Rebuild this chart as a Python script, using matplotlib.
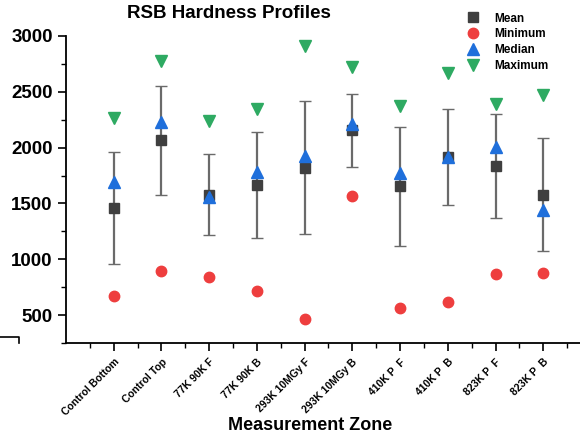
import numpy as np
import matplotlib
matplotlib.use("Agg")
import matplotlib.pyplot as plt
from matplotlib.lines import Line2D

plt.rcParams["font.family"] = ["Liberation Sans", "DejaVu Sans"]
plt.rcParams["font.weight"] = "bold"

zones = ["Control Bottom", "Control Top", "77K 90K F", "77K 90K B",
         "293K 10MGy F", "293K 10MGy B", "410K P  F", "410K P  B",
         "823K P  F", "823K P  B"]
mean_vals = [1462, 2066, 1577, 1667, 1822, 2156, 1652, 1915, 1837, 1580]
std_vals = [502, 488, 362, 472, 596, 327, 530, 432, 467, 508]
min_vals = [675, 893, 845, 714, 462, 1566, 561, 621, 866, 879]
median_vals = [1695, 2228, 1557, 1783, 1922, 2208, 1774, 1915, 2002, 1443]
max_vals = [2261, 2778, 2240, 2342, 2910, 2726, 2376, 2666, 2387, 2472]

x = np.arange(1, len(zones) + 1)

fig = plt.figure(figsize=(5.8, 4.34), dpi=100)
ax = fig.add_axes([66 / 580, 91 / 434, 525 / 580, 307 / 434])

ax.errorbar(x, mean_vals, yerr=std_vals, fmt="none", ecolor="#6a6a6a",
            elinewidth=1.6, capsize=4, capthick=1.0, zorder=2)
ax.plot(x, mean_vals, "s", color="#3f3f3f", ms=7, zorder=3, label="Mean")
ax.plot(x, min_vals, "o", color="#ee3e3e", ms=7.5, zorder=3, label="Minimum")
ax.plot(x, median_vals, "^", color="#1f6fdb", ms=8.5, zorder=4, label="Median")
ax.plot(x, max_vals, "v", color="#2eaa62", ms=8.5, zorder=4, label="Maximum")

ax.set_xlim(0, 11)
ax.set_ylim(250, 3000)
ax.set_xticks(x)
ax.set_xticks(np.arange(0.5, 11, 1), minor=True)
ax.set_xticklabels(zones, rotation=45, ha="right", rotation_mode="anchor",
                   fontsize=7.5, fontweight="bold")
ax.set_yticks([500, 1000, 1500, 2000, 2500, 3000])
ax.set_yticks(np.arange(250, 3001, 250), minor=True)
ax.tick_params(axis="y", labelsize=13.5, width=1.2, length=6)
ax.tick_params(axis="y", which="minor", width=1.0, length=3.5)
ax.tick_params(axis="x", width=1.2, length=6, pad=4)
ax.tick_params(axis="x", which="minor", width=1.0, length=3.5)
for lab in ax.get_yticklabels():
    lab.set_fontweight("bold")

for s in ["top", "right"]:
    ax.spines[s].set_visible(False)
for s in ["left", "bottom"]:
    ax.spines[s].set_linewidth(1.3)

ax.set_xlabel("Measurement Zone", fontsize=13, fontweight="bold")
ax.xaxis.set_label_coords((310 - 66) / 525, -0.24)

fig.text(229 / 580, 1 - 14 / 434, "RSB Hardness Profiles", ha="center",
         va="center", fontsize=13.5, fontweight="bold")

ax.legend(loc="upper left", bbox_to_anchor=(455 / 580, 1 - 2 / 434),
          bbox_transform=fig.transFigure, frameon=False,
          handlelength=1.2, handletextpad=1.2, labelspacing=0.32,
          prop={"weight": "bold", "size": 8.5})

fig.add_artist(Line2D([0, 19 / 580, 19 / 580],
                      [1 - 337 / 434, 1 - 337 / 434, 1 - 343 / 434],
                      color="black", lw=1.2))

fig.savefig("out.png", dpi=100)
